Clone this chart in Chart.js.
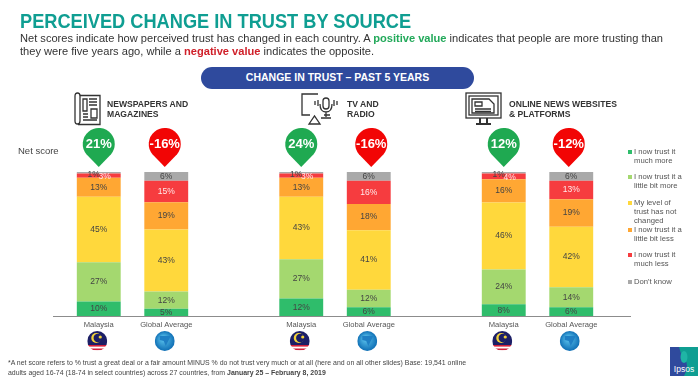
<!DOCTYPE html>
<html>
<head>
<meta charset="utf-8">
<title>Perceived change in trust by source</title>
<script src="https://cdn.jsdelivr.net/npm/chart.js@4"></script>
<style>
  html, body { margin: 0; padding: 0; background: #fff; }
  body { width: 700px; height: 381px; position: relative; overflow: hidden; font-family: "Liberation Sans", Arial, sans-serif; }
  #chart { position: absolute; left: 0; top: 0; }
  .abs { position: absolute; white-space: nowrap; }
  h1 { position: absolute; left: 20px; top: 8px; margin: 0; font-size: 21px; line-height: 26px; color: #0f9e92; font-weight: bold; white-space: nowrap; transform: scaleX(0.867); transform-origin: 0 0; }
  .intro { left: 20px; top: 32px; font-size: 11.1px; line-height: 13.4px; color: #333; }
  .intro .up { color: #22a95a; font-weight: bold; }
  .intro .down { color: #d0202a; font-weight: bold; }
  .pill { left: 201px; top: 67px; width: 273px; height: 22px; line-height: 21px; border-radius: 11px; background: #2f4a9d; color: #fff; font-weight: bold; font-size: 10.5px; text-align: center; }
  .head { font-size: 8.6px; line-height: 10.4px; font-weight: bold; color: #333; }
  .net { left: 18px; top: 145px; font-size: 9.5px; color: #444; }
  .note { left: 8px; top: 358px; font-size: 6.95px; line-height: 9.6px; color: #444; }
  #legend { position: absolute; left: 628px; top: 0; font-size: 7.7px; line-height: 9.1px; color: #555; }
  #legend div { position: absolute; left: 0; white-space: nowrap; padding-left: 6px; }
  #legend i { position: absolute; left: 0; top: 3px; width: 4px; height: 4px; }
</style>
</head>
<body>
<canvas id="chart" width="700" height="381"></canvas>

<h1>PERCEIVED CHANGE IN TRUST BY SOURCE</h1>
<div class="abs intro">Net scores indicate how perceived trust has changed in each country. A <span class="up">positive value</span> indicates that people are more trusting than<br>they were five years ago, while a <span class="down">negative value</span> indicates the opposite.</div>
<div class="abs pill">CHANGE IN TRUST – PAST 5 YEARS</div>

<svg class="abs" style="left:74px;top:92px" width="27" height="34" viewBox="0 0 27 34" fill="none" stroke="#333" stroke-width="1.3">
  <path d="M1 29V4q0-3 2.5-3T6 4v25q0 3-2.5 3T1 29z"/><path d="M4 32.5H26V3.500H6"/>
  <path d="M9 7h4v12H9zM15 7h8M15 10h8M15 13h8M9 22h5M9 25h5M17 17h6v9h-6zM9 28h14"/>
</svg>
<div class="abs head" style="left:107px;top:99px">NEWSPAPERS AND<br>MAGAZINES</div>

<svg class="abs" style="left:300px;top:93px" width="42" height="33" viewBox="0 0 42 33" fill="none" stroke="#333" stroke-width="1.3">
  <path d="M18 1H2V22H10M24 22H30"/><path d="M9 31L14.500 23L20 31z"/>
  <rect x="23" y="5" width="6" height="11" rx="3"/><path d="M20 11q0 8 6 8t6-8M26 19v5M21 25h10M18 7v6M15 8v4M34 7v6M37 8v4"/>
</svg>
<div class="abs head" style="left:347px;top:99px">TV AND<br>RADIO</div>

<svg class="abs" style="left:465px;top:92px" width="37" height="35" viewBox="0 0 37 35" fill="none" stroke="#333" stroke-width="1.3">
  <rect x="1" y="1" width="35" height="25"/><rect x="4" y="4" width="29" height="19"/>
  <path d="M7 7h17l5 5v9H7z"/><path d="M10 10h7v4h-7zM10 17h16M10 19.500h16"/><path d="M15 26v5M22 26v5M11 32h15" stroke-width="2"/>
</svg>
<div class="abs head" style="left:509px;top:99px">ONLINE NEWS WEBSITES<br>&amp; PLATFORMS</div>

<div class="abs net">Net score</div>
<div id="legend"></div>

<div class="abs note">*A net score refers to % trust a great deal or a fair amount MINUS % do not trust very much or at all (here and on all other slides) Base: 19,541 online<br>adults aged 16-74 (18-74 in select countries) across 27 countries, from <b>January 25 – February 8, 2019</b></div>

<svg class="abs" style="left:670px;top:347px" width="28" height="29" viewBox="0 0 28 29">
  <rect width="28" height="29" fill="#2f4a9d"/><path d="M9 0H28V29H14Q20 18 14 11Q10 6 9 0z" fill="#0f9e92"/>
  <ellipse cx="14" cy="10" rx="3.500" ry="6" fill="#1fb5a5"/>
  <text x="14" y="25" font-size="8.500" fill="#fff" text-anchor="middle" font-family="Liberation Sans">Ipsos</text>
</svg>

<script>
const categories = ['Malaysia', 'Global Average', '', 'Malaysia', 'Global Average', '', 'Malaysia', 'Global Average'];
const netScores = [21, -16, null, 24, -16, null, 12, -12];

const seriesNames = ['I now trust it much more', 'I now trust it a little bit more', 'My level of trust has not changed', 'I now trust it a little bit less', 'I now trust it much less', "Don't know"];
const muchMore = [10, 5, null, 12, 6, null, 8, 6];
const littleMore = [27, 12, null, 27, 12, null, 24, 14];
const notChanged = [45, 43, null, 43, 41, null, 46, 42];
const littleLess = [13, 19, null, 13, 18, null, 16, 19];
const muchLess = [3, 15, null, 3, 16, null, 4, 13];
const dontKnow = [1, 6, null, 1, 6, null, 1, 6];

const seriesValues = [muchMore, littleMore, notChanged, littleLess, muchLess, dontKnow];
const seriesColors = ['#2fbd6b', '#a4d86f', '#ffd83c', '#ffa733', '#f63c3f', '#a9a9a9'];
const labelColors = ['#444', '#444', '#444', '#444', '#ffe9e9', '#444'];

// the slide is a 100% stacked bar, rounded labels don't always add up to 100
function share(seriesIndex, catIndex) {
  const v = seriesValues[seriesIndex][catIndex];
  if (v === null) return null;
  const total = seriesValues.reduce((sum, s) => sum + s[catIndex], 0);
  return v / total * 100;
}

const segmentLabels = {
  id: 'segmentLabels',
  afterDatasetsDraw(chart) {
    const ctx = chart.ctx;
    ctx.save();
    ctx.font = '8.5px "Liberation Sans"';
    ctx.textAlign = 'center';
    ctx.textBaseline = 'middle';
    chart.data.datasets.forEach((ds, d) => {
      chart.getDatasetMeta(d).data.forEach((bar, i) => {
        const v = seriesValues[d][i];
        if (v === null) return;
        // the tiny top segments are pushed apart so they stay readable
        let dx = 0, dy = 0;
        if (v < 5) { dx = d === 4 ? 6 : -5; dy = 1.5; }
        ctx.fillStyle = labelColors[d];
        ctx.fillText(v + '%', bar.x + dx, (bar.y + bar.base) / 2 + dy);
      });
    });
    ctx.restore();
  }
};

const netPins = {
  id: 'netPins',
  afterDraw(chart) {
    const ctx = chart.ctx;
    const x = chart.scales.x;
    // pins sit a touch off the bar centres on the slide
    const nudge = [0, -1.5, 0, 0, 2.5, 0, 0, -2.5];
    netScores.forEach((score, i) => {
      if (score === null) return;
      const cx = x.getPixelForValue(i) + nudge[i];
      const cy = 144, r = 16, tip = 167;
      ctx.save();
      ctx.fillStyle = score > 0 ? '#1fa951' : '#f20505';
      ctx.beginPath();
      ctx.arc(cx, cy, r, Math.PI * 0.78, Math.PI * 0.22);
      ctx.lineTo(cx, tip);
      ctx.closePath();
      ctx.fill();
      ctx.fillStyle = '#fff';
      ctx.font = 'bold 13px "Liberation Sans"';
      ctx.textAlign = 'center';
      ctx.textBaseline = 'middle';
      ctx.fillText(score + '%', cx, cy + 0.5);
      ctx.restore();
    });
  }
};

const baseline = {
  id: 'baseline',
  afterDatasetsDraw(chart) {
    const ctx = chart.ctx;
    const y = Math.round(chart.scales.y.getPixelForValue(0)) + 0.5;
    ctx.save();
    ctx.strokeStyle = '#8c8c8c';
    ctx.lineWidth = 1;
    ctx.beginPath();
    ctx.moveTo(53, y);
    ctx.lineTo(631, y);
    ctx.stroke();
    ctx.restore();
  }
};

// little round flags under the bars, same x as the categories
const flags = {
  id: 'flags',
  afterDraw(chart) {
    const ctx = chart.ctx;
    const x = chart.scales.x;
    categories.forEach((c, i) => {
      if (!c) return;
      const cx = x.getPixelForValue(i) - 1.5, cy = 341, r = 10;
      ctx.save();
      ctx.beginPath();
      ctx.arc(cx, cy, r, 0, Math.PI * 2);
      ctx.clip();
      if (c === 'Malaysia') {
        ctx.fillStyle = '#fff';
        ctx.fillRect(cx - r, cy - r, 2 * r, 2 * r);
        ctx.fillStyle = '#1c1f66';
        ctx.fillRect(cx - r, cy - r, 2 * r, 14);
        ctx.fillStyle = '#d3203a';
        ctx.fillRect(cx - r, cy + 4, 2 * r, 1.6);
        ctx.fillRect(cx - r, cy + 7.500, 2 * r, 1.6);
        ctx.fillStyle = '#f2d23a';
        ctx.beginPath();
        ctx.arc(cx - 1, cy - 3, 5, 0, Math.PI * 2);
        ctx.fill();
        ctx.fillStyle = '#1c1f66';
        ctx.beginPath();
        ctx.arc(cx + 0.5, cy - 3, 4.2, 0, Math.PI * 2);
        ctx.fill();
        ctx.fillStyle = '#f2d23a';
        ctx.beginPath();
        ctx.arc(cx + 3, cy - 4, 1.6, 0, Math.PI * 2);
        ctx.fill();
      } else {
        const g = ctx.createRadialGradient(cx - 2, cy - 3, 1, cx, cy, r);
        g.addColorStop(0, '#5cc4ee');
        g.addColorStop(1, '#0f6fb5');
        ctx.fillStyle = g;
        ctx.fillRect(cx - r, cy - r, 2 * r, 2 * r);
        ctx.fillStyle = '#1f7fc4';
        ctx.beginPath();
        ctx.moveTo(cx - 5, cy - 5);
        ctx.lineTo(cx + 6, cy - 5);
        ctx.lineTo(cx + 3, cy + 1);
        ctx.lineTo(cx + 1, cy + 5);
        ctx.lineTo(cx - 1, cy);
        ctx.lineTo(cx - 5, cy - 1);
        ctx.closePath();
        ctx.fill();
      }
      ctx.restore();
    });
  }
};

new Chart(document.getElementById('chart'), {
  type: 'bar',
  data: {
    labels: categories,
    datasets: seriesNames.map((name, d) => ({
      label: name,
      data: categories.map((c, i) => share(d, i)),
      backgroundColor: seriesColors[d],
      borderWidth: 0,
      categoryPercentage: 1,
      barPercentage: 0.65
    }))
  },
  options: {
    responsive: false,
    animation: false,
    layout: { padding: { left: 65, right: 95, top: 172, bottom: 0 } },
    plugins: { legend: { display: false }, tooltip: { enabled: false } },
    scales: {
      x: {
        stacked: true,
        grid: { display: false, drawTicks: false },
        border: { display: false },
        afterFit(scale) { scale.height = 65; },
        ticks: {
          autoSkip: false,
          maxRotation: 0,
          padding: 4,
          color: '#555',
          font: { family: 'Liberation Sans', size: 7.6 }
        }
      },
      y: { stacked: true, display: false, min: 0, max: 100 }
    }
  },
  plugins: [baseline, segmentLabels, netPins, flags]
});

// side legend, text wraps by hand like the slide
const legendLines = [['I now trust it', 'much more'], ['I now trust it a', 'little bit more'], ['My level of', 'trust has not', 'changed'], ['I now trust it a', 'little bit less'], ['I now trust it', 'much less'], ["Don't know"]];
const legendTops = [147, 172, 198, 225, 250, 277];
const legend = document.getElementById('legend');
legendLines.forEach((lines, i) => {
  const row = document.createElement('div');
  row.style.top = legendTops[i] + 'px';
  row.innerHTML = '<i style="background:' + seriesColors[i] + '"></i>' + lines.join('<br>');
  legend.appendChild(row);
});
</script>
</body>
</html>
